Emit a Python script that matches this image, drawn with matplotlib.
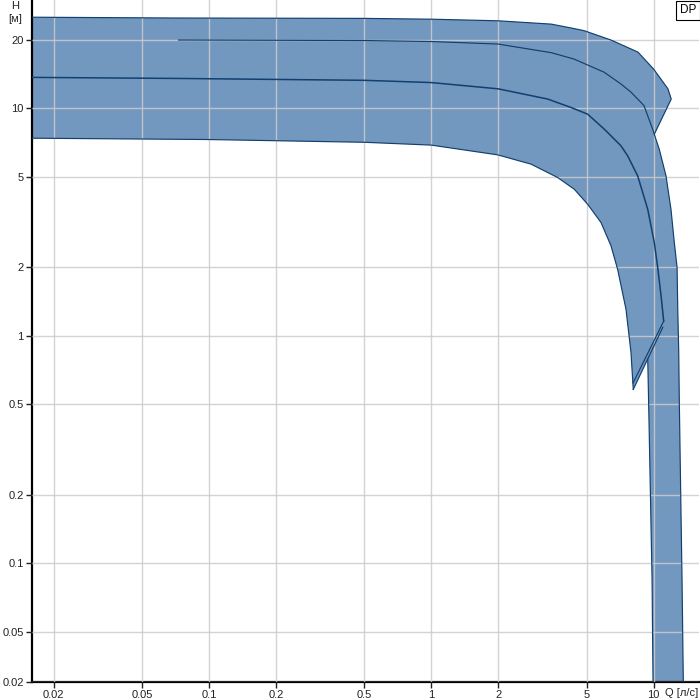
import matplotlib
matplotlib.use('Agg')
import matplotlib.pyplot as plt

plt.rcParams['font.family'] = ['Liberation Sans', 'DejaVu Sans']

# --- curve data (Q in l/s, H in m) ---
c1_q = [0.016, 0.07, 0.5, 1.0, 2.0, 3.46, 4.25, 4.86, 6.43, 8.5, 10.0, 11.6, 12.0]
c1_h = [25.2, 25.0, 24.9, 24.7, 24.3, 23.5, 22.6, 22.0, 20.0, 17.7, 14.9, 12.2, 11.0]

c2_q = [0.073, 0.5, 1.0, 2.0, 3.46, 4.38, 5.98, 7.14, 7.91, 9.05, 9.9, 10.07]
c2_h = [20.0, 19.9, 19.7, 19.2, 17.6, 16.5, 14.45, 12.8, 11.8, 10.3, 8.1, 7.7]

c3_q = [0.016, 0.075, 0.5, 1.0, 2.0, 3.34, 4.25, 5.05, 6.0, 7.14, 7.65, 8.48, 9.41, 10.07, 10.43, 10.8, 11.1]
c3_h = [13.7, 13.55, 13.3, 13.0, 12.2, 11.0, 10.1, 9.44, 8.11, 6.84, 6.18, 5.05, 3.6, 2.57, 2.0, 1.5, 1.16]

c4_q = [0.016, 0.1, 0.5, 1.0, 1.99, 2.81, 3.70, 4.40, 5.05, 5.80, 6.43, 6.89, 7.51, 7.91, 8.1]
c4_h = [7.4, 7.3, 7.1, 6.9, 6.25, 5.69, 4.97, 4.41, 3.79, 3.15, 2.49, 1.96, 1.31, 0.846, 0.581]

# right outer boundary (continues from the kink on c2 down to the axis)
rb_q = [10.07, 10.6, 11.37, 11.97, 12.39, 12.75, 12.84, 12.97, 13.05, 13.42, 13.6]
rb_h = [7.7, 6.62, 5.05, 3.6, 2.57, 2.0, 1.31, 0.85, 0.51, 0.085, 0.03]

# left edge of the vertical strip
le_q = [9.41, 9.53, 9.84, 9.94]
le_h = [0.79, 0.43, 0.085, 0.03]

# end lines
inner_q = [8.08, 11.1]
inner_h = [0.62, 1.16]
outer_q = [8.1, 11.0]
outer_h = [0.581, 1.09]

xticks = [0.02, 0.05, 0.1, 0.2, 0.5, 1, 2, 5, 10]
xlabels = ['0.02', '0.05', '0.1', '0.2', '0.5', '1', '2', '5', '10']
yticks = [0.03, 0.05, 0.1, 0.2, 0.5, 1, 2, 5, 10, 20]
ylabels = ['0.02', '0.05', '0.1', '0.2', '0.5', '1', '2', '5', '10', '20']

FILL = '#7298bf'
EDGE = '#123f6e'

fig = plt.figure(figsize=(7, 7), dpi=100)
ax = fig.add_axes([32/700, 18/700, 667/700, 682/700])
ax.set_xscale('log'); ax.set_yscale('log')
ax.set_xlim(0.016, 16)
ax.set_ylim(0.03, 30)

# union outline of the shaded range
poly_q = c1_q + rb_q + le_q[::-1] + [outer_q[0]] + c4_q[::-1]
poly_h = c1_h + rb_h + le_h[::-1] + [outer_h[0]] + c4_h[::-1]
ax.fill(poly_q, poly_h, color=FILL, lw=0, zorder=1)

lw = 0.85
ax.plot(c1_q + rb_q, c1_h + rb_h, color=EDGE, lw=lw, zorder=3)
ax.plot(c2_q, c2_h, color=EDGE, lw=lw, zorder=3)
ax.plot(c3_q, c3_h, color=EDGE, lw=1.1, zorder=3)
ax.plot(c4_q, c4_h, color=EDGE, lw=lw, zorder=3)
ax.plot(le_q, le_h, color=EDGE, lw=lw, zorder=3)
ax.plot(inner_q, inner_h, color=EDGE, lw=lw, zorder=3)
ax.plot(outer_q, outer_h, color=EDGE, lw=lw, zorder=3)

ax.set_xticks(xticks); ax.set_xticklabels(xlabels)
ax.set_yticks(yticks); ax.set_yticklabels(ylabels)
ax.minorticks_off()
ax.grid(True, color='#cccccc', lw=1.0, alpha=0.85, zorder=2)
ax.set_axisbelow(False)
ax.tick_params(labelsize=8, colors='#222222', length=4, width=1, pad=2)
ax.spines['top'].set_visible(False); ax.spines['right'].set_visible(False)
ax.spines['left'].set_linewidth(1.6); ax.spines['bottom'].set_linewidth(1.6)

fig.text(15/700, 1 - 6/700, 'H', fontsize=8, ha='center', va='center', color='#222222')
fig.text(15/700, 1 - 19/700, '[м]', fontsize=8, ha='center', va='center', color='#222222')
fig.text(665/700, 1 - 693/700, 'Q [л/с]', fontsize=8, ha='left', va='center', color='#222222')
ax.text(0.996, 0.994, 'DP', transform=ax.transAxes, ha='right', va='top', fontsize=8.5,
        bbox=dict(boxstyle='square,pad=0.3', fc='white', ec='black', lw=0.8), zorder=5)

fig.savefig('out.png', dpi=100)
